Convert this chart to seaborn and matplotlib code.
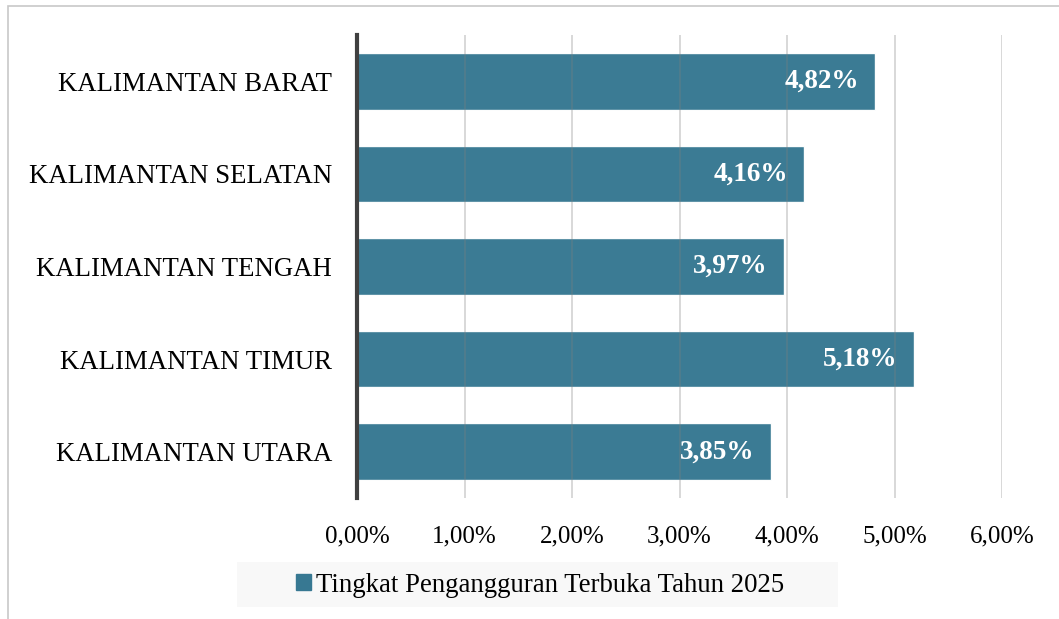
import matplotlib
matplotlib.use("Agg")
import matplotlib.pyplot as plt
import matplotlib.patches as mpatches
import seaborn as sns
import pandas as pd

categories = ["KALIMANTAN BARAT", "KALIMANTAN SELATAN", "KALIMANTAN TENGAH",
              "KALIMANTAN TIMUR", "KALIMANTAN UTARA"]
values = [4.82, 4.16, 3.97, 5.18, 3.85]
series_name = "Tingkat Pengangguran Terbuka Tahun 2025"
xticks = [0, 1, 2, 3, 4, 5, 6]
xtick_labels = ["0,00%", "1,00%", "2,00%", "3,00%", "4,00%", "5,00%", "6,00%"]

sns.set_theme(style="white")
plt.rcParams['font.family'] = ['Liberation Serif', 'DejaVu Serif']

df = pd.DataFrame({"cat": categories, "val": values})
bar_color = "#377892"

fig = plt.figure(figsize=(10.59, 6.19), dpi=100)
W, H = 1059, 619
ax = fig.add_axes([357 / W, 1 - 498 / H, (1002 - 357) / W, (498 - 35) / H])

sns.barplot(data=df, y="cat", x="val", orient="h", color=bar_color,
            width=0.61, ax=ax, saturation=1, zorder=2, alpha=0.98)

ax.set_xlim(0, 6)
ax.set_xticks(xticks)
ax.set_xticklabels(xtick_labels, fontsize=18, color="black")
ax.tick_params(axis="x", length=0, pad=20)
ax.tick_params(axis="y", length=0, pad=18, labelsize=19.3, labelcolor="black")
ax.set_xlabel("")
ax.set_ylabel("")
ax.grid(axis="x", color="#7f7f7f", linewidth=1.2, alpha=0.35, zorder=3)
ax.set_axisbelow(False)
for s in ["top", "right", "bottom"]:
    ax.spines[s].set_visible(False)
ax.spines["left"].set_color("#404040")
ax.spines["left"].set_linewidth(3)
ax.spines["left"].set_zorder(5)

for i, v in enumerate(values):
    ax.text(v - 0.15, i, f"{v:.2f}%".replace(".", ","), ha="right", va="center",
            color="white", fontsize=19.5, fontweight="bold", zorder=6)

# legend box
leg_bg = mpatches.Rectangle((237 / W, 1 - 607 / H), (838 - 237) / W, 45 / H,
                            transform=fig.transFigure, facecolor="#f8f8f8",
                            edgecolor="none", zorder=0)
fig.patches.append(leg_bg)
handle = mpatches.Patch(color=bar_color, label=series_name)
fig.legend(handles=[handle], loc="center", bbox_to_anchor=(540 / W, 1 - 585 / H),
           frameon=False, fontsize=19.3, handlelength=0.55, handleheight=0.55,
           handletextpad=0.2, borderaxespad=0, labelcolor="black")

# outer chart border
border = mpatches.Rectangle((8 / W, -0.1), 1.2, 1 - 6 / H + 0.1,
                            transform=fig.transFigure, facecolor="none",
                            edgecolor="#c8c8c8", linewidth=1.2, zorder=0)
fig.patches.append(border)

fig.savefig("out.png", dpi=100)
